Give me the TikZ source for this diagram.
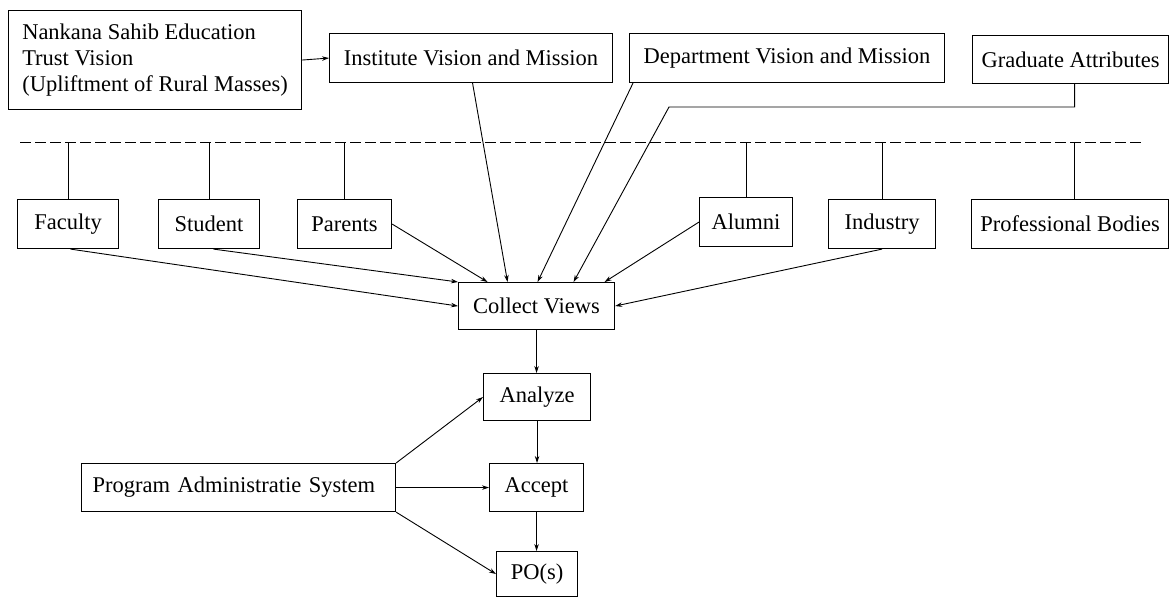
\documentclass[tikz,border=0pt]{standalone}
\usepackage{fontspec}
\setmainfont{Liberation Serif}
\usetikzlibrary{arrows.meta,calc}
\tikzset{
  box/.style={draw, line width=1.1pt, anchor=north west, inner sep=0pt, align=center,
    font=\fontsize{22.5}{26}\selectfont},
  conn/.style={line width=0.9pt},
  arr/.style={line width=0.9pt, -{Stealth[length=7pt,width=4.5pt]}},
  dashline/.style={line width=1pt, dash pattern=on 11pt off 4pt}
}
\begin{document}
\begin{tikzpicture}[x=1pt,y=-1pt]
\useasboundingbox (0,0) rectangle (1169,597);
% top row
\node[box, align=left, minimum width=293pt, minimum height=99pt] (nst) at (8,10)
  {Nankana Sahib Education\\Trust Vision\\(Upliftment of Rural Masses)};
\node[box, minimum width=283pt, minimum height=49pt] (inst) at (329,33) {Institute Vision and Mission};
\node[box, minimum width=315pt, minimum height=49pt] (dept) at (629,33) {Department Vision and Mission};
\node[box, minimum width=196pt, minimum height=48pt] (grad) at (972,35) {Graduate Attributes};
% stakeholder row
\node[box, minimum width=101pt, minimum height=49pt] (fac) at (17,199) {Faculty};
\node[box, minimum width=101pt, minimum height=49pt] (stu) at (158,199) {Student};
\node[box, minimum width=94pt, minimum height=49pt] (par) at (297,199) {Parents};
\node[box, minimum width=93pt, minimum height=49pt] (alu) at (699,197) {Alumni};
\node[box, minimum width=107pt, minimum height=49pt] (ind) at (828,199) {Industry};
\node[box, minimum width=197pt, minimum height=49pt] (prof) at (971,199) {Professional Bodies};
% process
\node[box, minimum width=156pt, minimum height=47pt] (cv) at (458,282) {Collect Views};
\node[box, minimum width=107pt, minimum height=47pt] (ana) at (483,373) {Analyze};
\node[box, minimum width=94pt, minimum height=48pt] (acc) at (489,463) {Accept};
\node[box, minimum width=81pt, minimum height=45pt] (po) at (496,551) {PO(s)};
\node[box, align=left, text width=292pt, inner xsep=11pt, minimum height=48pt] (pas) at (81,463)
  {Program Administratie System};
% dashed line
\coordinate (dl1) at (20,142);
\coordinate (dl2) at (1144,142);
\draw[dashline] (dl1) -- (dl2);
% stakeholder connectors to dashed line
\draw[conn] (fac.north) -- (fac.north |- dl1);
\draw[conn] (stu.north) -- (stu.north |- dl1);
\draw[conn] (par.north) -- (par.north |- dl1);
\draw[conn] (alu.north) -- (alu.north |- dl1);
\draw[conn] (ind.north) -- (ind.north |- dl1);
\draw[conn] ([xshift=4.5pt]prof.north) -- ([xshift=4.5pt]prof.north |- dl1);
% top arrows
\draw[arr] (nst.east) -- (inst.west);
\draw[arr] ([xshift=1.5pt]inst.south) -- ([xshift=-29pt]cv.north);
\draw[arr] ([xshift=4pt]dept.south west) -- ([xshift=1pt]cv.north);
\coordinate (g1) at (669,107);
\draw[arr] ([xshift=4pt]grad.south) |- (g1) -- ([xshift=37pt]cv.north);
% stakeholder arrows
\draw[arr] ([xshift=2.5pt]fac.south) -- (cv.west);
\draw[arr] ([xshift=4.5pt]stu.south) -- (cv.north west);
\draw[arr] (par.east) -- ([xshift=-49pt]cv.north);
\draw[arr] (alu.west) -- ([xshift=68pt]cv.north);
\draw[arr] (ind.south) -- (cv.east);
% process chain
\draw[arr] (cv.south) -- (cv.south |- ana.north);
\draw[arr] (ana.south) -- (ana.south |- acc.north);
\draw[arr] (acc.south) -- (acc.south |- po.north);
\draw[arr] (pas.north east) -- (ana.west);
\draw[arr] (pas.east) -- (acc.west);
\draw[arr] (pas.south east) -- (po.west);
\end{tikzpicture}
\end{document}
